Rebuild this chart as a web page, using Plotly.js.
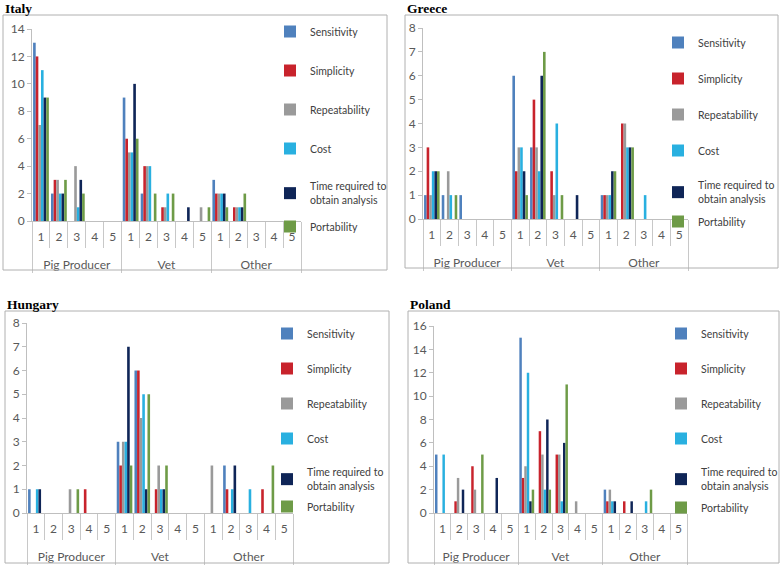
<!DOCTYPE html>
<html>
<head>
<meta charset="utf-8">
<script src="https://cdn.plot.ly/plotly-3.0.1.min.js"></script>
<style>html,body{margin:0;padding:0;background:#fff;}#chart{width:781px;height:565px;}</style>
</head>
<body>
<div id="chart"></div>
<script>
// Categories (group names start on a second line to sit below the sub-category row)
const groups = ["<br>Pig Producer","<br>Pig Producer","<br>Pig Producer","<br>Pig Producer","<br>Pig Producer","<br>Vet","<br>Vet","<br>Vet","<br>Vet","<br>Vet","<br>Other","<br>Other","<br>Other","<br>Other","<br>Other"];
const subcats = ["1","2","3","4","5","1","2","3","4","5","1","2","3","4","5"];
const seriesNames = ["Sensitivity","Simplicity","Repeatability","Cost","Time required to<br>obtain analysis","Portability"];
const seriesColors = ["#4f81bd","#c8232c","#9a9a9a","#29b0e0","#0f2557","#6e9b47"];

// Italy
const italySensitivity   = [13,2,0,0,0, 9,2,0,0,0, 3,0,0,0,0];
const italySimplicity    = [12,3,0,0,0, 6,4,1,0,0, 2,1,0,0,0];
const italyRepeatability = [7,3,4,0,0, 5,4,1,0,1, 2,1,0,0,0];
const italyCost          = [11,2,1,0,0, 5,4,2,0,0, 2,1,0,0,0];
const italyTime          = [9,2,3,0,0, 10,0,0,1,0, 2,1,0,0,0];
const italyPortability   = [9,3,2,0,0, 6,2,2,0,1, 1,2,0,0,0];

// Greece
const greeceSensitivity   = [1,1,1,0,0, 6,3,0,0,0, 1,0,0,0,0];
const greeceSimplicity    = [3,0,0,0,0, 2,5,2,0,0, 1,4,0,0,0];
const greeceRepeatability = [1,2,0,0,0, 3,3,1,0,0, 1,4,0,0,0];
const greeceCost          = [2,1,0,0,0, 3,2,4,0,0, 1,3,1,0,0];
const greeceTime          = [2,0,0,0,0, 2,6,0,1,0, 2,3,0,0,0];
const greecePortability   = [2,1,0,0,0, 1,7,1,0,0, 2,3,0,0,0];

// Hungary
const hungarySensitivity   = [1,0,0,0,0, 3,6,0,0,0, 0,2,0,0,0];
const hungarySimplicity    = [0,0,0,1,0, 2,6,1,0,0, 0,1,0,1,0];
const hungaryRepeatability = [0,0,1,0,0, 3,4,2,0,0, 2,0,0,0,0];
const hungaryCost          = [1,0,0,0,0, 3,5,1,0,0, 0,1,1,0,0];
const hungaryTime          = [1,0,0,0,0, 7,1,1,0,0, 0,2,0,0,0];
const hungaryPortability   = [0,0,1,0,0, 2,5,2,0,0, 0,0,0,2,0];

// Poland
const polandSensitivity   = [5,0,0,0,0, 15,0,0,0,0, 2,0,0,0,0];
const polandSimplicity    = [0,1,4,0,0, 3,7,5,0,0, 1,1,0,0,0];
const polandRepeatability = [0,3,2,0,0, 4,5,5,1,0, 2,0,0,0,0];
const polandCost          = [5,0,0,0,0, 12,2,1,0,0, 1,0,1,0,0];
const polandTime          = [0,2,0,3,0, 1,8,6,0,0, 1,1,0,0,0];
const polandPortability   = [0,0,5,0,0, 2,2,11,0,0, 0,0,2,0,0];

const countries = [
  {name:"Italy",   data:[italySensitivity,italySimplicity,italyRepeatability,italyCost,italyTime,italyPortability], ymax:14, dtick:2},
  {name:"Greece",  data:[greeceSensitivity,greeceSimplicity,greeceRepeatability,greeceCost,greeceTime,greecePortability], ymax:8, dtick:1},
  {name:"Hungary", data:[hungarySensitivity,hungarySimplicity,hungaryRepeatability,hungaryCost,hungaryTime,hungaryPortability], ymax:8, dtick:1},
  {name:"Poland",  data:[polandSensitivity,polandSimplicity,polandRepeatability,polandCost,polandTime,polandPortability], ymax:16, dtick:2}
];

const W = 781, H = 565;
const px = v => v / W;
const py = v => 1 - v / H;

// layout geometry (pixels)
const geo = [
  {x0:32,  x1:301, y0:221, yTop:29,  box:[3,15,387,270],   title:[3,8],    legX:270, legTop:17,  legGap:20, portTop:212},
  {x0:423, x1:688, y0:219, yTop:28,  box:[405,15,778,268], title:[405,8],  legX:658, legTop:28,  legGap:17, portTop:207},
  {x0:27,  x1:293, y0:513, yTop:323, box:[5,311,389,563],  title:[5,304],  legX:267, legTop:319, legGap:16, portTop:492},
  {x0:434, x1:687, y0:513, yTop:326, box:[408,311,779,563],title:[408,304],legX:661, legTop:319, legGap:16, portTop:493}
];

const fontFam = "Lato, 'Open Sans', sans-serif";
const traces = [];
const layout = {
  width: W, height: H,
  margin: {l:0, r:0, t:0, b:0, autoexpand:false},
  paper_bgcolor: "#ffffff",
  plot_bgcolor: "rgba(0,0,0,0)",
  barmode: "group",
  bargap: 0.12,
  bargroupgap: 0,
  font: {family: fontFam, size: 11, color: "#404040"},
  shapes: [],
  annotations: []
};

let legIdx = 0;
const legName = k => (k === 0 ? "legend" : "legend" + (k + 1));

countries.forEach((c, i) => {
  const n = i + 1;
  const xa = n === 1 ? "x" : "x" + n;
  const ya = n === 1 ? "y" : "y" + n;
  const g = geo[i];
  const lgA = legName(legIdx++);
  const lgB = legName(legIdx++);
  c.data.forEach((vals, s) => {
    traces.push({
      type: "bar",
      x: [groups, subcats],
      y: vals,
      name: seriesNames[s],
      marker: {color: seriesColors[s]},
      xaxis: xa, yaxis: ya,
      legend: s === 5 ? lgB : lgA,
      legendgroup: c.name + s,
      hoverinfo: "skip"
    });
  });
  const yLo = py(g.y0), yHi = py(g.yTop);
  layout["xaxis" + (n === 1 ? "" : n)] = {
    type: "multicategory",
    domain: [px(g.x0), px(g.x1)],
    anchor: ya,
    showline: true, linecolor: "#bfbfbf", linewidth: 1,
    ticks: "outside", tickson: "boundaries", ticklen: 26, tickcolor: "#c8c8c8",
    ticklabelstandoff: 5,
    showdividers: true, dividercolor: "#c8c8c8", dividerwidth: 1,
    showgrid: false, zeroline: false,
    tickfont: {family: fontFam, size: 12, color: "#595959"},
    fixedrange: true
  };
  layout["yaxis" + (n === 1 ? "" : n)] = {
    domain: [yLo, yHi],
    anchor: xa,
    range: [0, c.ymax],
    dtick: c.dtick,
    showline: true, linecolor: "#bfbfbf", linewidth: 1,
    ticks: "outside", ticklen: 4, tickcolor: "#bfbfbf",
    showgrid: false, zeroline: false,
    tickfont: {family: fontFam, size: 12, color: "#595959"},
    fixedrange: true
  };
  const legCommon = {
    xanchor: "left", yanchor: "top",
    xref: "paper", yref: "paper",
    bgcolor: "rgba(0,0,0,0)",
    font: {family: fontFam, size: 10.5, color: "#404040"},
    itemwidth: 30
  };
  layout[lgA] = Object.assign({}, legCommon, {x: px(g.legX), y: py(g.legTop), tracegroupgap: g.legGap});
  layout[lgB] = Object.assign({}, legCommon, {x: px(g.legX), y: py(g.portTop), tracegroupgap: 0});
  layout.shapes.push({
    type: "rect", xref: "paper", yref: "paper",
    x0: px(g.box[0]), x1: px(g.box[2]), y0: py(g.box[3]), y1: py(g.box[1]),
    line: {color: "#b0b0b0", width: 1}, fillcolor: "rgba(0,0,0,0)"
  });
  layout.annotations.push({
    text: "<b>" + c.name + "</b>",
    xref: "paper", yref: "paper",
    x: px(g.title[0]), y: py(g.title[1]),
    xanchor: "left", yanchor: "middle",
    showarrow: false,
    font: {family: "'Liberation Serif', 'Times New Roman', serif", size: 13.5, color: "#000"}
  });
});

Plotly.newPlot("chart", traces, layout, {displayModeBar: false, staticPlot: true});
</script>
</body>
</html>
